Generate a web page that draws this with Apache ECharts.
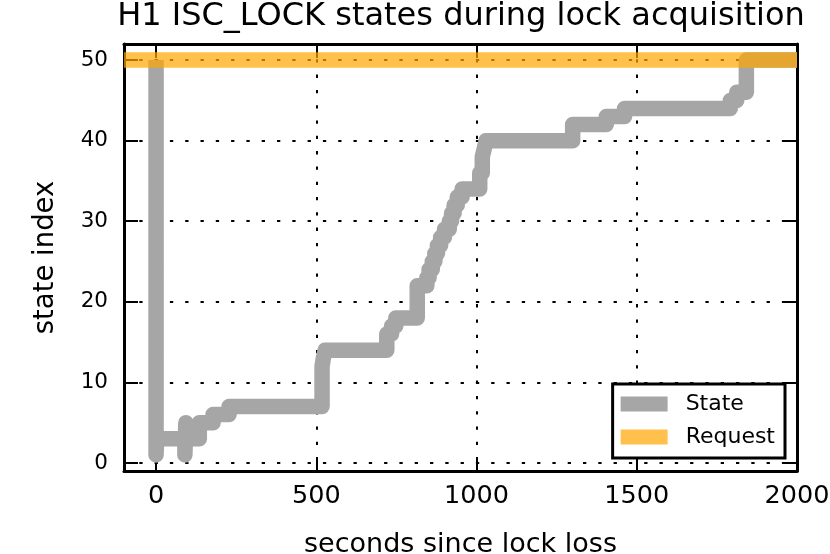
<!DOCTYPE html>
<html>
<head>
<meta charset="utf-8">
<script src="https://cdn.jsdelivr.net/npm/echarts@6/dist/echarts.min.js"></script>
<style>
  html, body { margin: 0; padding: 0; background: #fff; }
  #main { width: 830px; height: 554px; }
</style>
</head>
<body>
<div id="main"></div>
<script>
// guardian state transitions (seconds since lock loss, state index)
const stateTimes = [0, 0, 2, 90, 93, 97, 135, 178, 228, 518, 522, 528, 720, 735, 748, 815,
  845, 852, 862, 870, 878, 888, 900, 915, 922, 930, 940, 955, 1010, 1018, 1024, 1030,
  1300, 1405, 1462, 1792, 1812, 1842, 2000];
const stateValues = [50, 1, 3, 1, 5, 3, 5, 6, 7, 12, 13, 14, 16, 17, 18, 22,
  23, 24, 25, 26, 27, 28, 29, 30, 31, 32, 33, 34, 36, 38, 39, 40,
  42, 43, 44, 45, 46, 50, 50];
const requestTimes = [-100, 2000];
const requestValues = [50, 50];
const xTicks = [0, 500, 1000, 1500, 2000];
const yTicks = [0, 10, 20, 30, 40, 50];

const FONT = 'DejaVu Sans';
const stateData = stateTimes.map((t, i) => [t, stateValues[i]]);
const requestData = requestTimes.map((t, i) => [t, requestValues[i]]);

const frame = { show: true, onZero: false, lineStyle: { color: '#000', width: 3 } };
const tick = (vals) => ({
  show: true, inside: true, length: 14, customValues: vals,
  lineStyle: { color: '#000', width: 2 },
});
const grid = { show: true, lineStyle: { color: '#000', width: 2, type: [3.3, 12] } };

const chart = echarts.init(document.getElementById('main'), null, { renderer: 'canvas' });
chart.setOption({
  animation: false,
  backgroundColor: '#fff',
  title: {
    text: 'H1 ISC_LOCK states during lock acquisition',
    left: 461,
    top: 1,
    padding: 0,
    textAlign: 'center',
    textStyle: { fontFamily: FONT, fontSize: 32, fontWeight: 'normal', color: '#000' },
  },
  grid: {
    left: 124,
    right: 33,
    top: 44,
    bottom: 83,
    containLabel: false,
    outerBoundsMode: 'none',
  },
  legend: {
    orient: 'vertical',
    right: 45,
    top: 384,
    padding: [9, 10, 10, 8],
    itemGap: 11,
    itemWidth: 47,
    itemHeight: 15,
    icon: 'rect',
    borderColor: '#000',
    borderWidth: 3,
    borderRadius: 0,
    backgroundColor: '#fff',
    textStyle: { fontFamily: FONT, fontSize: 22, color: '#000', padding: [0, 0, 0, 13] },
    data: ['State', 'Request'],
  },
  xAxis: [
    {
      type: 'value',
      min: -100,
      max: 2000,
      position: 'bottom',
      name: 'seconds since lock loss',
      nameLocation: 'middle',
      nameGap: 60,
      nameTextStyle: { fontFamily: FONT, fontSize: 27, color: '#000', lineHeight: 27 },
      axisLine: frame,
      axisTick: tick(xTicks),
      axisLabel: {
        customValues: xTicks, margin: 13,
        formatter: (v) => String(v),
        fontFamily: FONT, fontSize: 25.5, color: '#000', lineHeight: 25.5,
      },
      splitLine: grid,
    },
    {
      type: 'value',
      min: -100,
      max: 2000,
      position: 'top',
      axisLine: frame,
      axisTick: tick(xTicks),
      axisLabel: { show: false },
      splitLine: { show: false },
    },
  ],
  yAxis: [
    {
      type: 'value',
      min: -1,
      max: 52,
      position: 'left',
      name: 'state index',
      nameLocation: 'middle',
      nameGap: 64,
      nameTextStyle: { fontFamily: FONT, fontSize: 27.5, color: '#000', lineHeight: 27.5 },
      axisLine: frame,
      axisTick: tick(yTicks),
      axisLabel: {
        customValues: yTicks, margin: 16,
        formatter: (v) => String(v),
        fontFamily: FONT, fontSize: 21.5, color: '#000',
      },
      splitLine: grid,
    },
    {
      type: 'value',
      min: -1,
      max: 52,
      position: 'right',
      axisLine: frame,
      axisTick: tick(yTicks),
      axisLabel: { show: false },
      splitLine: { show: false },
    },
  ],
  series: [
    {
      name: 'State',
      type: 'line',
      step: 'end',
      data: stateData,
      symbol: 'none',
      clip: true,
      color: '#a6a6a6',
      lineStyle: { color: '#a6a6a6', width: 15.5, cap: 'butt', join: 'round' },
      z: 3,
    },
    {
      name: 'Request',
      type: 'line',
      data: requestData,
      symbol: 'none',
      clip: true,
      color: 'rgba(255,165,0,0.7)',
      lineStyle: { color: 'rgba(255,165,0,0.7)', width: 15.5, cap: 'butt' },
      z: 4,
    },
  ],
});
</script>
</body>
</html>
